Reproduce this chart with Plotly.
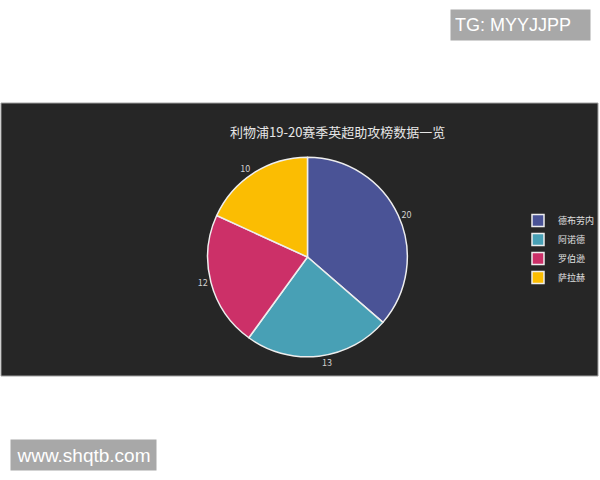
import plotly.graph_objects as go

# 利物浦 19-20 赛季英超助攻
players = ["德布劳内", "阿诺德", "罗伯逊", "萨拉赫"]
assists = [20, 13, 12, 10]
slice_colors = ["#4a5396", "#48a0b5", "#cc3068", "#fbbd02"]

W, H = 600, 480


def px(x):
    return x / W


def py(y):
    return 1 - y / H


fig = go.Figure()

fig.add_trace(go.Pie(
    labels=players,
    values=assists,
    sort=False,
    direction="clockwise",
    rotation=0,
    marker=dict(colors=slice_colors, line=dict(color="#eeeeee", width=1.5)),
    textinfo="value",
    textposition="outside",
    textfont=dict(size=9, color="#d0d0d0"),
    domain=dict(x=[px(208), px(408)], y=[py(357), py(157)]),
    hoverinfo="label+value+percent",
))

# dark chart panel
fig.add_shape(type="rect", xref="paper", yref="paper",
              x0=px(1), x1=px(599), y0=py(376), y1=py(103),
              fillcolor="#262626", line=dict(color="#a0a0a0", width=1),
              layer="below")

fig.add_annotation(text="利物浦19-20赛季英超助攻榜数据一览",
                   xref="paper", yref="paper", x=px(338), y=py(131),
                   xanchor="center", yanchor="middle",
                   showarrow=False, font=dict(size=13, color="#e6e6e6"))

# watermarks
fig.add_annotation(text="TG: MYYJJPP", xref="paper", yref="paper",
                   x=px(451), y=py(25), xanchor="left", yanchor="middle",
                   width=131, height=22, align="left",
                   showarrow=False, bgcolor="#a8a8a8", borderpad=4,
                   font=dict(size=18, color="#ffffff", family="Liberation Sans"))
fig.add_annotation(text="www.shqtb.com", xref="paper", yref="paper",
                   x=px(10), y=py(455), xanchor="left", yanchor="middle",
                   width=137, height=22, align="center",
                   showarrow=False, bgcolor="#a8a8a8", borderpad=4,
                   font=dict(size=19, color="#ffffff", family="Liberation Sans"))

fig.update_layout(
    width=W, height=H,
    margin=dict(l=0, r=0, t=0, b=0),
    paper_bgcolor="#ffffff",
    font=dict(family="Noto Sans CJK SC"),
    showlegend=True,
    legend=dict(x=px(519), y=py(249), yanchor="middle", xanchor="left",
                font=dict(size=9, color="#e0e0e0"),
                bgcolor="rgba(0,0,0,0)"),
)

fig.write_html("out.html", config={"displayModeBar": False},
               post_script="document.body.style.margin='0';")
